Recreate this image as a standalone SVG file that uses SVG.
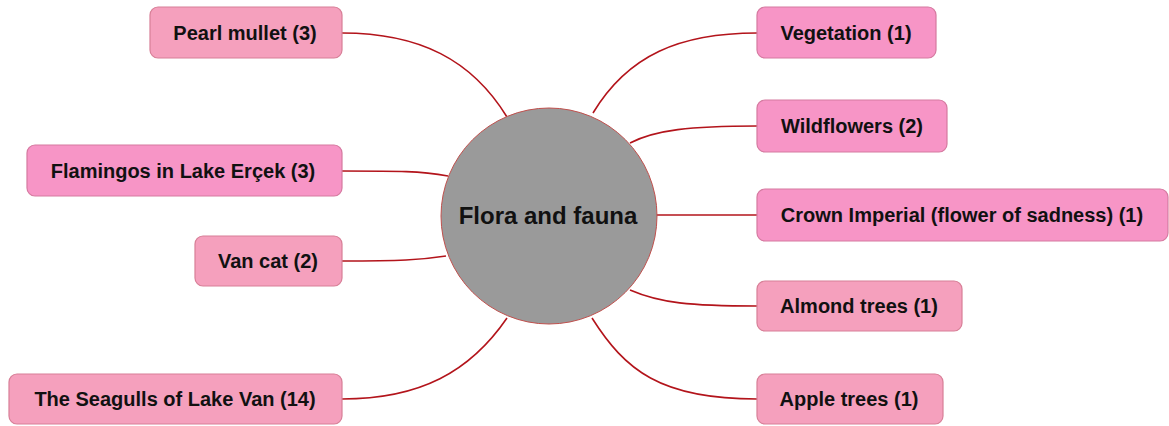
<svg xmlns="http://www.w3.org/2000/svg" width="1169" height="426" viewBox="0 0 1169 426">
  <style>
    .box { fill: #f5a0bd; stroke: #d77f97; stroke-width: 1.2; }
    .box.hot { fill: #f795c6; stroke: #d57aa0; }
    .lbl { font-family: "Liberation Sans", Arial, sans-serif; font-weight: bold; font-size: 20px; fill: #111; text-anchor: middle; }
    .link { fill: none; stroke: #b3141b; stroke-width: 1.6; }
    .hub { fill: #9a9a9a; stroke: #c0504d; stroke-width: 1; }
    .hubtext { font-family: "Liberation Sans", Arial, sans-serif; font-weight: bold; font-size: 24px; fill: #111; text-anchor: middle; }
  </style>
  <rect width="1169" height="426" fill="#ffffff"/>

  <!-- connectors from the central topic to each branch -->
  <g id="connectors">
    <path class="link" d="M342,33 C420,33 472,60 507,117"/>
    <path class="link" d="M342,171 C400,171 420,171 448,176"/>
    <path class="link" d="M342,261 C400,261 420,260 446,256"/>
    <path class="link" d="M342,399 C420,399 470,372 507,318"/>
    <path class="link" d="M757,33 C680,33 628,55 593,113"/>
    <path class="link" d="M757,126 C690,126 655,130 630,143"/>
    <path class="link" d="M655,215 L757,215"/>
    <path class="link" d="M630,290 C660,303 690,306 757,306"/>
    <path class="link" d="M592,318 C625,370 660,399 757,399"/>
  </g>

  <!-- central topic -->
  <g id="flora-and-fauna">
    <circle class="hub" cx="549" cy="216" r="108"/>
    <text class="hubtext" x="548" y="224">Flora and fauna</text>
  </g>

  <!-- left branches -->
  <g id="pearl-mullet">
    <rect class="box" x="150" y="7" width="192" height="51" rx="8"/>
    <text class="lbl" x="245" y="40">Pearl mullet (3)</text>
  </g>
  <g id="flamingos">
    <rect class="box hot" x="27" y="145" width="315" height="51" rx="8"/>
    <text class="lbl" x="183" y="178">Flamingos in Lake Erçek (3)</text>
  </g>
  <g id="van-cat">
    <rect class="box" x="195" y="236" width="147" height="50" rx="8"/>
    <text class="lbl" x="268" y="268">Van cat (2)</text>
  </g>
  <g id="seagulls">
    <rect class="box" x="9" y="374" width="333" height="50" rx="8"/>
    <text class="lbl" x="175" y="406">The Seagulls of Lake Van (14)</text>
  </g>

  <!-- right branches -->
  <g id="vegetation">
    <rect class="box hot" x="757" y="7" width="179" height="51" rx="8"/>
    <text class="lbl" x="846" y="40">Vegetation (1)</text>
  </g>
  <g id="wildflowers">
    <rect class="box hot" x="757" y="100" width="190" height="52" rx="8"/>
    <text class="lbl" x="852" y="133">Wildflowers (2)</text>
  </g>
  <g id="crown-imperial">
    <rect class="box hot" x="757" y="189" width="411" height="52" rx="8"/>
    <text class="lbl" x="962" y="222">Crown Imperial (flower of sadness) (1)</text>
  </g>
  <g id="almond-trees">
    <rect class="box" x="757" y="281" width="205" height="50" rx="8"/>
    <text class="lbl" x="859" y="313">Almond trees (1)</text>
  </g>
  <g id="apple-trees">
    <rect class="box" x="757" y="374" width="186" height="50" rx="8"/>
    <text class="lbl" x="849" y="406">Apple trees (1)</text>
  </g>
</svg>
